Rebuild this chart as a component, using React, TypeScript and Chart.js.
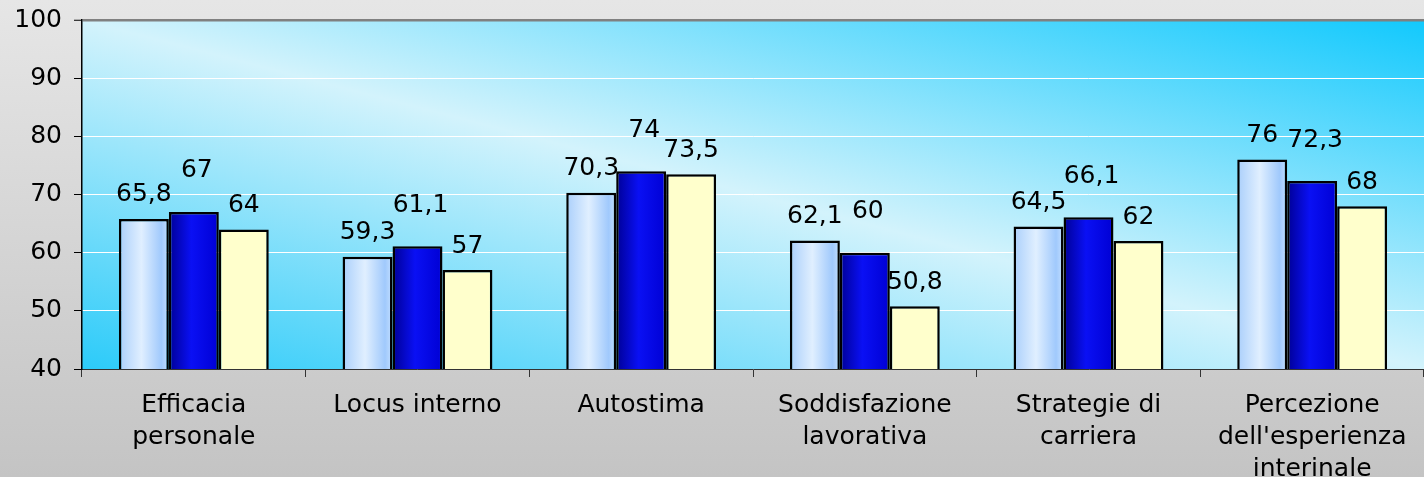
import React, { useEffect, useRef } from "react";
import { Chart, registerables } from "chart.js";

Chart.register(...registerables);

const CATEGORIES: string[][] = [
  ["Efficacia", "personale"],
  ["Locus interno"],
  ["Autostima"],
  ["Soddisfazione", "lavorativa"],
  ["Strategie di", "carriera"],
  ["Percezione", "dell'esperienza", "interinale"],
];

const SERIES_NAMES = ["Serie 1", "Serie 2", "Serie 3"];
const SERIES_1 = [65.8, 59.3, 70.3, 62.1, 64.5, 76];
const SERIES_2 = [67, 61.1, 74, 60, 66.1, 72.3];
const SERIES_3 = [64, 57, 73.5, 50.8, 62, 68];

const Y_MIN = 40;
const Y_MAX = 100;
const Y_STEP = 10;

const CAT_PCT = 0.67;
const FONT_FAMILY = '"DejaVu Sans", Verdana, sans-serif';
const FONT_SIZE = 25;
const LABEL_DY = [24, 41, 24];
const LABEL_DX = [0, 3, 0];

const fmt = (v: number) => String(v).replace(".", ",");

type Stop = [number, string];
const FILL_1: Stop[] = [
  [0, "#aacffb"],
  [0.45, "#e0efff"],
  [0.85, "#a0c9fc"],
  [1, "#c4dfff"],
];
const FILL_2: Stop[] = [
  [0, "#000096"],
  [0.45, "#0a10f4"],
  [1, "#0000d4"],
];
const FILL_3: Stop[] = [
  [0, "#ffffcc"],
  [1, "#ffffcc"],
];

function barFill(stops: Stop[], fallback: string) {
  return (c: any) => {
    const chart = c.chart;
    const xs = chart.scales && chart.scales.x;
    if (!xs || c.dataIndex == null || !chart.chartArea) return fallback;
    const catW = (xs.right - xs.left) / CATEGORIES.length;
    const bw = (catW * CAT_PCT) / 3;
    const cx = xs.getPixelForValue(c.dataIndex) + (c.datasetIndex - 1) * bw;
    const g = chart.ctx.createLinearGradient(cx - bw / 2, 0, cx + bw / 2, 0);
    stops.forEach(([o, col]) => g.addColorStop(o, col));
    return g;
  };
}

const plotBg = {
  id: "plotBg",
  beforeDraw(chart: any) {
    const { ctx, chartArea: a } = chart;
    const w = a.right - a.left;
    const h = a.bottom - a.top;
    const k = (2 * w * h) / (w * w + h * h);
    const g = ctx.createLinearGradient(a.left, a.bottom, a.left + h * k, a.bottom - w * k);
    g.addColorStop(0, "#2ccbf9");
    g.addColorStop(0.5, "#d3f3fc");
    g.addColorStop(1, "#12c9fd");
    ctx.save();
    ctx.fillStyle = g;
    ctx.fillRect(a.left, a.top, w, h);
    ctx.restore();
  },
};

const valueLabels = {
  id: "valueLabels",
  afterDatasetsDraw(chart: any) {
    const ctx = chart.ctx;
    ctx.save();
    ctx.font = `${FONT_SIZE}px ${FONT_FAMILY}`;
    ctx.fillStyle = "#000";
    ctx.textAlign = "center";
    ctx.textBaseline = "middle";
    chart.data.datasets.forEach((ds: any, i: number) => {
      const meta = chart.getDatasetMeta(i);
      meta.data.forEach((el: any, j: number) => {
        ctx.fillText(fmt(ds.data[j]), el.x + LABEL_DX[i], el.y - LABEL_DY[i]);
      });
    });
    ctx.restore();
  },
};

export default function App() {
  const ref = useRef<HTMLCanvasElement | null>(null);

  useEffect(() => {
    if (!ref.current) return;
    const chart = new Chart(ref.current, {
      type: "bar",
      data: {
        labels: CATEGORIES,
        datasets: [
          { label: SERIES_NAMES[0], data: SERIES_1, backgroundColor: barFill(FILL_1, "#cfe5ff") },
          { label: SERIES_NAMES[1], data: SERIES_2, backgroundColor: barFill(FILL_2, "#0000ff") },
          { label: SERIES_NAMES[2], data: SERIES_3, backgroundColor: barFill(FILL_3, "#ffffcc") },
        ].map((d) => ({
          ...d,
          borderColor: "#000000",
          borderWidth: 2.5,
          borderSkipped: false,
          categoryPercentage: CAT_PCT,
          barPercentage: 1,
        })),
      },
      options: {
        responsive: false,
        animation: false,
        devicePixelRatio: 1,
        layout: { padding: { top: 20, left: 0, right: 0, bottom: 0 } },
        plugins: {
          legend: { display: false },
          tooltip: { enabled: false },
        },
        scales: {
          x: {
            afterFit: (s: any) => {
              s.height = 108;
              s.paddingLeft = 0;
              s.paddingRight = 0;
            },
            grid: {
              drawOnChartArea: false,
              drawTicks: true,
              tickLength: 8,
              tickColor: "#333333",
              offset: true,
            },
            border: { display: true, color: "#333333", width: 1 },
            ticks: {
              color: "#000000",
              padding: 12,
              maxRotation: 0,
              autoSkip: false,
              font: { family: FONT_FAMILY, size: FONT_SIZE, lineHeight: 1.29 },
            },
          },
          y: {
            min: Y_MIN,
            max: Y_MAX,
            afterFit: (s: any) => {
              s.width = 82;
              s.paddingTop = 0;
              s.paddingBottom = 0;
            },
            grid: {
              color: (c: any) =>
                c.tick && c.tick.value === Y_MAX
                  ? "#808080"
                  : c.tick && c.tick.value === Y_MIN
                  ? "rgba(0,0,0,0)"
                  : "#ffffff",
              lineWidth: (c: any) => (c.tick && c.tick.value === Y_MAX ? 2.5 : 1),
              tickColor: "#000000",
              tickWidth: 1,
              tickLength: 8,
            },
            border: { display: true, color: "#000000", width: 1.5 },
            ticks: {
              stepSize: Y_STEP,
              color: "#000000",
              padding: 12,
              font: { family: FONT_FAMILY, size: FONT_SIZE },
            },
          },
        },
      },
      plugins: [plotBg, valueLabels],
    });
    return () => chart.destroy();
  }, []);

  return (
    <div
      style={{
        position: "fixed",
        left: 0,
        top: 0,
        width: 1424,
        height: 477,
        background: "linear-gradient(#e6e6e6, #c4c4c4)",
      }}
    >
      <canvas ref={ref} width={1424} height={477} style={{ display: "block", width: 1424, height: 477 }} />
    </div>
  );
}
